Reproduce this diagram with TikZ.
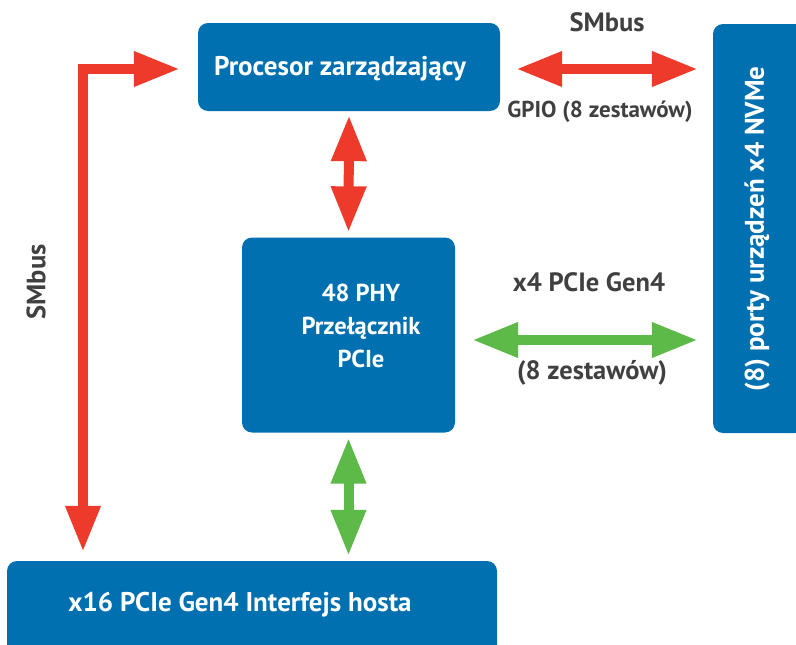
\documentclass[tikz,border=0pt]{standalone}
\usepackage{fontspec}
\setmainfont{PT Sans}
\usetikzlibrary{arrows.meta}
\definecolor{boxblue}{RGB}{0,112,176}
\definecolor{busred}{RGB}{238,58,42}
\definecolor{linkgreen}{RGB}{94,186,72}
\definecolor{labelgray}{RGB}{64,64,64}

\begin{document}
\begin{tikzpicture}[x=1pt,y=-1pt,
        block/.style={fill=boxblue,rounded corners=10pt,inner sep=0pt},
        blocktext/.style={text=white,font=\bfseries\fontsize{27}{33}\selectfont,align=center},
        lbl/.style={text=labelgray,font=\bfseries\fontsize{26.5}{30}\selectfont},
        fat/.style={line width=10pt,line join=miter,{Triangle[length=46pt,width=33pt]}-{Triangle[length=46pt,width=33pt]}},
        redbus/.style={fat,draw=busred},
        greenbus/.style={fat,draw=linkgreen}
    ]
            \clip (0,0) rectangle (796,645);
            % blocks
            \node[block,minimum width=302pt,minimum height=88pt] (proc) at (349,67) {};
            \node[block,minimum width=213pt,minimum height=195pt] (sw) at (348.5,335) {};
            \node[block,minimum width=92pt,minimum height=409pt] (nvme) at (759,228.5) {};
            \node[block,minimum width=490pt,minimum height=95pt] (host) at (252,608.5) {};
            \node[blocktext] (proctext) at (340,69) {Procesor zarządzający};
            \node[blocktext,font=\bfseries\fontsize{24.5}{33}\selectfont] (swtext) at (361,326) {48 PHY\\Przełącznik\\PCIe};
            \node[blocktext,rotate=90] (nvmetext) at (757,229) {(8) porty urządzeń x4 NVMe};
            \node[blocktext] (hosttext) at (240,605) {x16 PCIe Gen4 Interfejs hosta};
            % links
            \coordinate (smbx) at (83,0);
            \draw[redbus,shorten <=18pt,shorten >=9pt] ([yshift=-2pt]proc.west) -| (host.north -| smbx);
            \draw[redbus,shorten <=4pt,shorten >=5pt] (proc.south) -- (sw.north);
            \draw[redbus,shorten <=16pt,shorten >=15pt] ([yshift=-2pt]proc.east) -- ([yshift=-2pt]proc.east -| nvme.west);
            \draw[greenbus,shorten <=17pt,shorten >=15pt] ([yshift=-5pt]sw.east) -- ([yshift=-5pt]sw.east -| nvme.west);
            \draw[greenbus,shorten <=5pt,shorten >=5pt] (sw.south) -- (sw.south |- host.north);
            % labels
            \node[lbl,rotate=90] (smbl) at (36,282) {SMbus};
            \node[lbl] (smbt) at (607,22) {SMbus};
            \node[lbl,font=\bfseries\fontsize{23}{26}\selectfont] (gpio) at (600,112) {GPIO (8 zestawów)};
            \node[lbl] (pcie) at (589,282) {x4 PCIe Gen4};
            \node[lbl] (sets) at (592,373) {(8 zestawów)};
\end{tikzpicture}
\end{document}
